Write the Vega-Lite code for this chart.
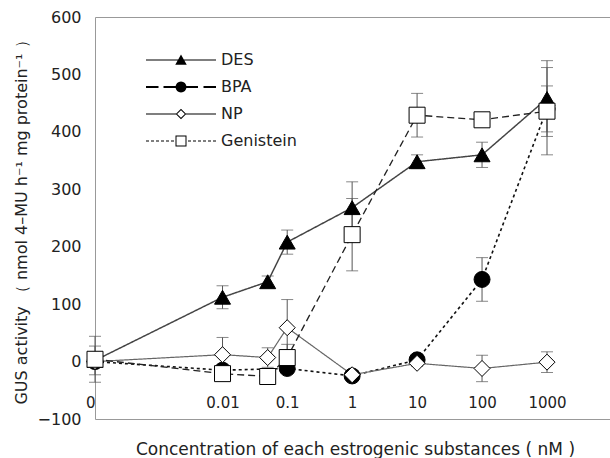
{
  "$schema": "https://vega.github.io/schema/vega-lite/v6.json",
  "width": 515,
  "height": 402,
  "autosize": {"type": "none"},
  "padding": {"left": 95, "top": 17, "right": 0, "bottom": 39},
  "background": "white",
  "config": {"view": {"stroke": null}, "font": "DejaVu Sans"},
  "data": {
    "values": [
      {"series": "DES", "conc": 0, "activity": 2, "err": 25},
      {"series": "DES", "conc": 0.01, "activity": 112, "err": 20},
      {"series": "DES", "conc": 0.05, "activity": 139, "err": 10},
      {"series": "DES", "conc": 0.1, "activity": 208, "err": 21},
      {"series": "DES", "conc": 1, "activity": 268, "err": 45},
      {"series": "DES", "conc": 10, "activity": 348, "err": 12},
      {"series": "DES", "conc": 100, "activity": 360, "err": 22},
      {"series": "DES", "conc": 1000, "activity": 458, "err": 66},
      {"series": "BPA", "conc": 0, "activity": 0, "err": 5},
      {"series": "BPA", "conc": 0.01, "activity": -15, "err": 5},
      {"series": "BPA", "conc": 0.1, "activity": -12, "err": 5},
      {"series": "BPA", "conc": 1, "activity": -25, "err": 5},
      {"series": "BPA", "conc": 10, "activity": 3, "err": 8},
      {"series": "BPA", "conc": 100, "activity": 143, "err": 38},
      {"series": "BPA", "conc": 1000, "activity": 440, "err": 40},
      {"series": "NP", "conc": 0, "activity": 0, "err": 5},
      {"series": "NP", "conc": 0.01, "activity": 12, "err": 30},
      {"series": "NP", "conc": 0.05, "activity": 7, "err": 17},
      {"series": "NP", "conc": 0.1, "activity": 59, "err": 49},
      {"series": "NP", "conc": 1, "activity": -23, "err": 5},
      {"series": "NP", "conc": 10, "activity": -3, "err": 5},
      {"series": "NP", "conc": 100, "activity": -12, "err": 23},
      {"series": "NP", "conc": 1000, "activity": -1, "err": 18},
      {"series": "Genistein", "conc": 0, "activity": 4, "err": 40},
      {"series": "Genistein", "conc": 0.01, "activity": -21, "err": 5},
      {"series": "Genistein", "conc": 0.05, "activity": -26, "err": 5},
      {"series": "Genistein", "conc": 0.1, "activity": 7, "err": 23},
      {"series": "Genistein", "conc": 1, "activity": 221, "err": 63},
      {"series": "Genistein", "conc": 10, "activity": 429, "err": 38},
      {"series": "Genistein", "conc": 100, "activity": 421, "err": 12},
      {"series": "Genistein", "conc": 1000, "activity": 436, "err": 76}
    ]
  },
  "encoding": {
    "x": {
      "field": "conc",
      "type": "quantitative",
      "scale": {"type": "symlog", "constant": 0.00011, "domain": [0, 9330], "nice": false, "zero": false},
      "axis": {
        "title": "Concentration of each estrogenic substances ( nM )",
        "values": [0, 0.01, 0.1, 1, 10, 100, 1000],
        "labelExpr": "'' + datum.value",
        "ticks": false,
        "domain": false,
        "grid": false,
        "labelPadding": -24,
        "labelFontSize": 15,
        "labelColor": "#222",
        "labelFlush": false,
        "labelOverlap": false,
        "labelBound": false,
        "labelAlign": {"condition": {"test": "datum.value === 0", "value": "right"}, "value": "center"},
        "titleFontSize": 17,
        "titleFontWeight": "normal",
        "titleColor": "#222",
        "titleX": 260,
        "titleY": 30,
        "titleAlign": "center",
        "titleBaseline": "middle"
      }
    },
    "y": {
      "field": "activity",
      "type": "quantitative",
      "scale": {"domain": [-100, 600], "nice": false, "zero": false},
      "axis": {
        "title": "GUS activity （ nmol 4–MU h⁻¹  mg protein⁻¹  ）",
        "values": [-100, 0, 100, 200, 300, 400, 500, 600],
        "ticks": false,
        "domain": true,
        "domainColor": "#999",
        "labelPadding": 14,
        "labelFontSize": 16,
        "labelColor": "#222",
        "grid": true,
        "gridColor": "#999",
        "gridOpacity": {"condition": {"test": "datum.value === 600 || datum.value === -100", "value": 1}, "value": 0},
        "titleFontSize": 16,
        "titleFontWeight": "normal",
        "titleColor": "#222",
        "titleX": -74,
        "titleY": 201,
        "titleAngle": 270,
        "titleAlign": "center",
        "titleBaseline": "middle"
      }
    }
  },
  "resolve": {"scale": {"shape": "independent"}},
  "layer": [
    {
      "mark": {"type": "point", "filled": true, "size": 0, "color": "black"},
      "encoding": {
        "shape": {
          "field": "series",
          "type": "nominal",
          "scale": {
            "domain": ["DES", "BPA", "NP", "Genistein"],
            "range": [
              "M-7,-0.1L7,-0.1L7,0.1L-7,0.1ZM0,-1.1L1.15,0.95L-1.15,0.95Z",
              "M-7,-0.2L-4.5,-0.2L-4.5,0.2L-7,0.2ZM-3.5,-0.2L3.4,-0.2L3.4,0.2L-3.5,0.2ZM4.5,-0.2L7,-0.2L7,0.2L4.5,0.2ZM1.1,0L1.016,0.421L0.778,0.778L0.421,1.016L0,1.1L-0.421,1.016L-0.778,0.778L-1.016,0.421L-1.1,0L-1.016,-0.421L-0.778,-0.778L-0.421,-1.016L0,-1.1L0.421,-1.016L0.778,-0.778L1.016,-0.421Z",
              "M-7,-0.1L-1,-0.1L-1,0.1L-7,0.1ZM1,-0.1L7,-0.1L7,0.1L1,0.1ZM0,-1.05L1.05,0L0,1.05L-1.05,0ZM0,-0.77L-0.77,0L0,0.77L0.77,0Z",
              "M-7,-0.1L-6.4,-0.1L-6.4,0.1L-7,0.1ZM-6,-0.1L-5.4,-0.1L-5.4,0.1L-6,0.1ZM-5,-0.1L-4.4,-0.1L-4.4,0.1L-5,0.1ZM-4,-0.1L-3.4,-0.1L-3.4,0.1L-4,0.1ZM-3,-0.1L-2.4,-0.1L-2.4,0.1L-3,0.1ZM-2,-0.1L-1.4,-0.1L-1.4,0.1L-2,0.1ZM1.4,-0.1L2,-0.1L2,0.1L1.4,0.1ZM2.4,-0.1L3,-0.1L3,0.1L2.4,0.1ZM3.4,-0.1L4,-0.1L4,0.1L3.4,0.1ZM4.4,-0.1L5,-0.1L5,0.1L4.4,0.1ZM5.4,-0.1L6,-0.1L6,0.1L5.4,0.1ZM6.4,-0.1L7,-0.1L7,0.1L6.4,0.1ZM-1.1,-1.1L1.1,-1.1L1.1,1.1L-1.1,1.1ZM-0.9,-0.9L-0.9,0.9L0.9,0.9L0.9,-0.9Z"
            ]
          },
          "legend": {
            "type": "symbol",
            "orient": "none",
            "legendX": 78,
            "legendY": 35,
            "title": null,
            "padding": 0,
            "labelFontSize": 16,
            "labelColor": "#222",
            "labelOffset": 32,
            "rowPadding": 11,
            "symbolSize": 100,
            "symbolFillColor": "black",
            "symbolStrokeColor": "#222",
            "symbolStrokeWidth": 1,
            "symbolOpacity": 1
          }
        }
      }
    },
    {
      "mark": {"type": "errorbar", "color": "#555", "thickness": 1, "ticks": {"size": 12, "color": "#555"}},
      "encoding": {
        "yError": {"field": "err"},
        "detail": {"field": "series", "type": "nominal"}
      }
    },
    {
      "mark": {"type": "line"},
      "encoding": {
        "color": {"field": "series", "type": "nominal", "scale": {"range": ["#111", "#444", "#222", "#666"]}, "legend": null},
        "strokeDash": {"field": "series", "type": "nominal", "scale": {"range": [[3, 3], [1, 0], [7, 4], [1, 0]]}, "legend": null},
        "strokeWidth": {"field": "series", "type": "nominal", "scale": {"range": [1.6, 1.2, 1.6, 1]}, "legend": null}
      }
    },
    {
      "mark": {"type": "point", "filled": true, "stroke": "black", "strokeWidth": 1, "size": 256, "opacity": 1},
      "encoding": {
        "fill": {"field": "series", "type": "nominal", "scale": {"range": ["black", "black", "white", "white"]}, "legend": null},
        "shape": {
          "field": "series",
          "type": "nominal",
          "scale": {"range": ["circle", "triangle-up", "square", "diamond"]},
          "legend": null
        }
      }
    }
  ]
}
